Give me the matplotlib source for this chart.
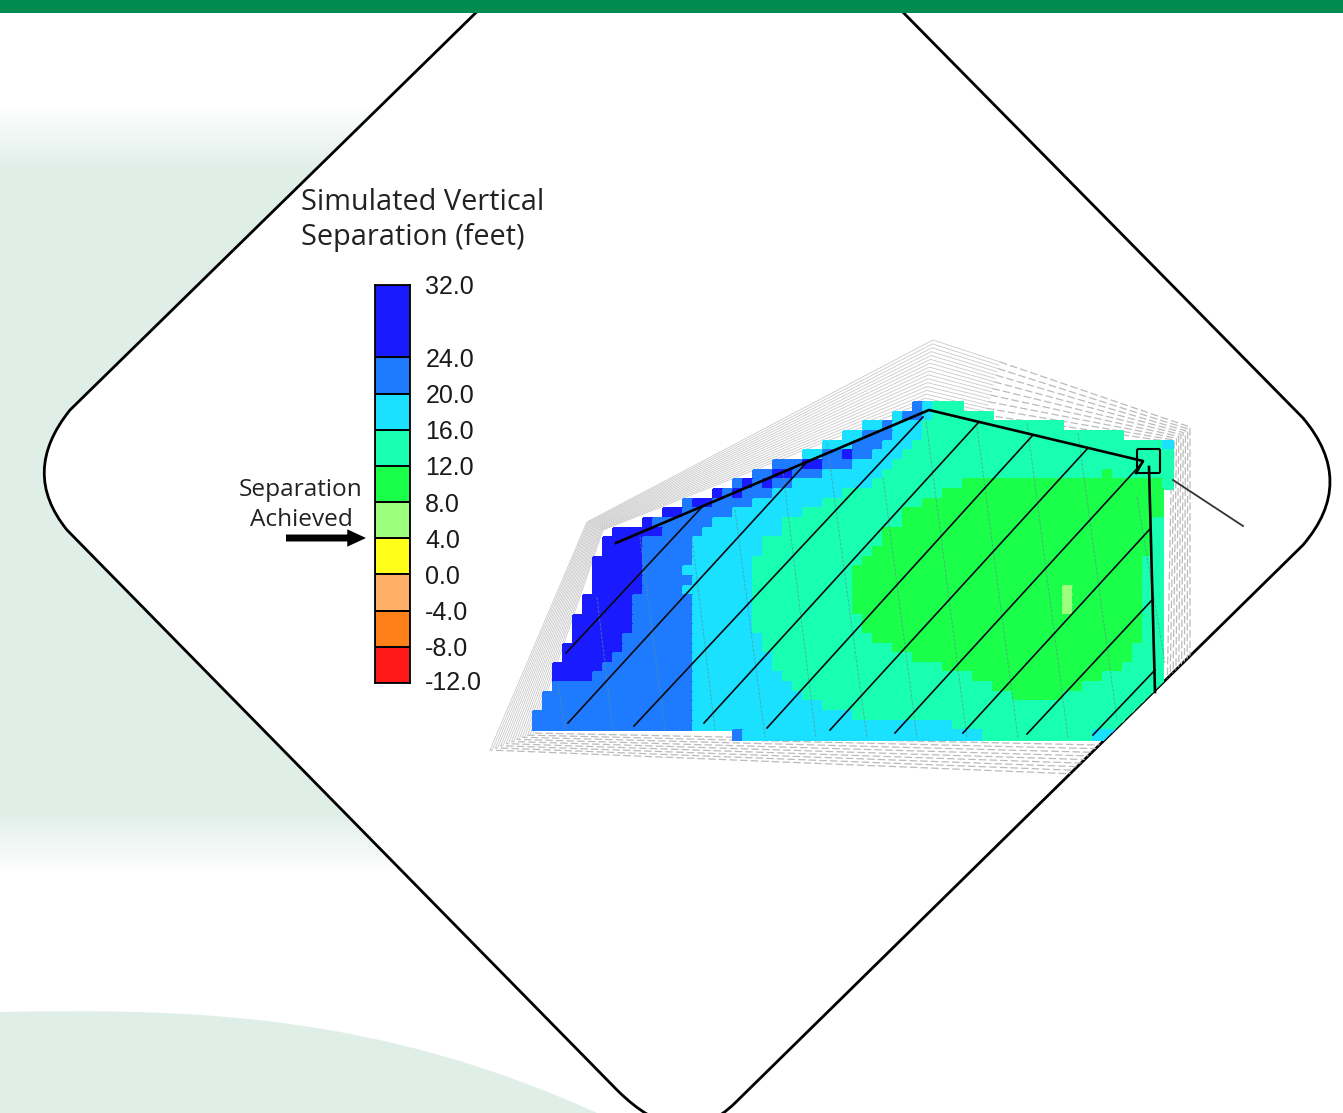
import numpy as np
import matplotlib
matplotlib.use("Agg")
import matplotlib.pyplot as plt
from matplotlib.colors import ListedColormap, BoundaryNorm
from matplotlib.path import Path
from matplotlib.patches import PathPatch, Rectangle, FancyBboxPatch
from matplotlib.transforms import ScaledTranslation

# legend classes, low to high (feet)
levels = [-12, -8, -4, 0, 4, 8, 12, 16, 20, 24, 32]
level_labels = ["-12.0", "-8.0", "-4.0", "0.0", "4.0", "8.0", "12.0", "16.0", "20.0", "24.0", "32.0"]
level_colors = ["#ff1919", "#ff7f19", "#ffb066", "#ffff19", "#9cff7d", "#19ff4a",
                "#19ffb2", "#19e1ff", "#1e7bff", "#1a1aff"]

# simulated separation per model cell, by class letter
class_values = {"B": 28, "b": 22, "c": 18, "t": 14, "g": 10, "l": 6}

# one entry per model row: first column, then runs of class + count
grid_rows = [
    "38 b1 c1 t3",
    "36 c1 b2 c1 t6",
    "33 c2 b1 c3 t14",
    "31 c2 b3 c3 t20",
    "29 c3 b3 c3 t25 c1",
    "27 c2 b2 B1 b2 c3 t27",
    "24 b3 B2 b3 c4 t28",
    "22 b2 B2 b3 c6 t22 g1 t6",
    "20 b1 B1 b1 B1 b2 c8 t9 g20 t1",
    "18 B1 b1 B1 b3 c7 t10 g22",
    "15 b1 B2 b4 c7 t10 g24",
    "13 B2 b5 c7 t10 g26",
    "11 B1 b6 c7 t12 g25 t1",
    "8 B5 b4 c8 t10 g27 t1",
    "7 B4 b5 c7 t12 g27 t1",
    "7 B4 b5 c7 t11 g28 t1",
    "6 B5 b5 c6 t11 g28 t2",
    "6 B5 b4 c7 t10 g29 t2",
    "6 B5 b5 c6 t10 g29 t2",
    "6 B5 b4 c7 t10 g21 l1 g7 t2",
    "5 B5 b6 c6 t10 g21 l1 g7 t2",
    "5 B5 b6 c6 t10 g21 l1 g7 t2",
    "4 B6 b6 c6 t11 g28 t2",
    "4 B6 b6 c6 t11 g28 t2",
    "4 B5 b7 c7 t11 g27 t2",
    "3 B6 b7 c7 t13 g24 t3",
    "3 B5 b8 c8 t14 g22 t3",
    "2 B5 b9 c8 t17 g18 t4",
    "2 B4 b10 c9 t19 g13 t6",
    "2 b14 c10 t20 g9 t8",
    "1 b15 c11 t21 g5 t10",
    "1 b15 c13 t34",
    "0 b16 c16 t31",
    "0 b16 c26 t21",
    "20 b1 c24 t11 c3 t4",
]

# injection lines and the thin dashed wells over them (picture pixels)
main_line_x = [616, 929, 1143, 1136]
main_line_y = [543, 410, 461, 473]
side_line_x = [1149, 1155]
side_line_y = [467, 692]
lateral_x0 = [566, 568, 634, 704, 767, 830, 895, 963, 1027, 1093]
lateral_y0 = [653, 723, 726, 723, 728, 730, 733, 733, 734, 735]
lateral_x1 = [702, 807, 923, 978, 1033, 1088, 1143, 1150, 1153, 1155]
lateral_y1 = [507, 462, 417, 423, 435, 448, 462, 529, 599, 670]
well_x0 = [558, 597, 640, 692, 735, 783, 827, 883, 925, 977, 1027, 1078, 1137]
well_y0 = [683, 597, 537, 537, 510, 473, 443, 477, 413, 427, 423, 433, 497]
well_x1 = [565, 613, 665, 715, 765, 816, 867, 917, 967, 1018, 1068, 1117, 1165]
well_y1 = [730, 730, 730, 730, 737, 738, 738, 738, 738, 738, 738, 720, 663]

# rings of the outer model grid
outer_ring_x = [490, 587, 933, 1000, 1190, 1190, 1100, 490]
outer_ring_y = [750, 522, 340, 362, 427, 800, 775, 750]
inner_ring_x = [533, 603, 925, 985, 1172, 1165, 1100, 533]
inner_ring_y = [733, 530, 402, 415, 442, 800, 745, 733]

pale = "#e0eee8"

fig = plt.figure(figsize=(13.43, 11.13), dpi=100)
ax = fig.add_axes([0, 0, 1, 1])
ax.axis("off")
plt.rcParams["font.family"] = ["Liberation Sans", "DejaVu Sans"]

# pale background bands behind the diamond
band_alpha = np.interp(np.arange(105, 875), [105, 170, 812, 872], [0, 1, 1, 0])
band = np.ones((len(band_alpha), 1, 4))
band[:, :, :3] = matplotlib.colors.to_rgb(pale)
band[:, 0, 3] = band_alpha
ax.imshow(band, extent=[0, 420, 875, 105], aspect="auto", zorder=1)
ax.set_xlim(0, 1343)
ax.set_ylim(1113, 0)
bottom_path = Path([(0, 1012), (200, 1008), (380, 1015), (597, 1113), (0, 1113), (0, 1012)],
                   [Path.MOVETO, Path.CURVE4, Path.CURVE4, Path.CURVE4, Path.LINETO, Path.LINETO])
ax.add_patch(PathPatch(bottom_path, facecolor=pale, edgecolor="none", zorder=1))

# rounded diamond
verts = [(495, -6), (70, 410), (20, 472), (67, 530), (617, 1090), (682, 1155), (735, 1103),
         (1303, 545), (1357, 482), (1303, 418), (885, -6)]
codes = [Path.MOVETO, Path.LINETO, Path.CURVE3, Path.CURVE3, Path.LINETO, Path.CURVE3, Path.CURVE3,
         Path.LINETO, Path.CURVE3, Path.CURVE3, Path.LINETO]
diamond = PathPatch(Path(verts, codes), facecolor="white", edgecolor="black", lw=2, zorder=2)
ax.add_patch(diamond)

# outer model grid, drawn as nested rings
for i, t in enumerate(np.linspace(0, 1, 17)):
    rx = (1 - t) * np.array(outer_ring_x) + t * np.array(inner_ring_x)
    ry = (1 - t) * np.array(outer_ring_y) + t * np.array(inner_ring_y)
    l1, = ax.plot(rx[:4], ry[:4], color="#c9c9c9", lw=0.6, zorder=3)
    l1.set_clip_path(diamond)
    if i % 2 == 0:
        l2, = ax.plot(rx[3:], ry[3:], color="#bbbbbb", lw=0.9, ls=(0, (6, 2.5)), zorder=3)
        l2.set_clip_path(diamond)

# simulated field
cmap = ListedColormap(level_colors)
norm = BoundaryNorm(levels, cmap.N)
n_cols = 64
field = np.full((len(grid_rows), n_cols), np.nan)
for r, row in enumerate(grid_rows):
    parts = row.split()
    col = int(parts[0])
    for run in parts[1:]:
        n = int(run[1:])
        field[r, col:col + n] = class_values[run[0]]
        col += n
mesh = ax.pcolormesh(533 + 10 * np.arange(n_cols + 1), 402 + 9.66 * np.arange(len(grid_rows) + 1),
                     np.ma.masked_invalid(field), cmap=cmap, norm=norm, zorder=4,
                     edgecolors="face", linewidth=0.1)
mesh.set_clip_path(diamond)

for x0, y0, x1, y1 in zip(well_x0, well_y0, well_x1, well_y1):
    ax.plot([x0, x1], [y0, y1], color="#5f8f8f", lw=0.7, ls=(0, (3, 1.5)), alpha=0.65, zorder=5)
for x0, y0, x1, y1 in zip(lateral_x0, lateral_y0, lateral_x1, lateral_y1):
    l, = ax.plot([x0, x1], [y0, y1], color="#0a0a14", lw=1.2, zorder=6)
    l.set_clip_path(diamond)
ax.plot(main_line_x, main_line_y, color="black", lw=1.9, zorder=7)
ax.plot(side_line_x, side_line_y, color="black", lw=1.9, zorder=7)

# callout box and leader
ax.add_patch(FancyBboxPatch((1137, 449), 23, 24, boxstyle="round,pad=0,rounding_size=1.5",
                            facecolor="none", edgecolor="black", lw=1.5, zorder=8))
ax.plot([1173, 1243], [480, 526], color="#333333", lw=1.3, zorder=8)

# top stripe
ax.add_patch(Rectangle((0, 0), 1343, 12.5, facecolor="#008c50", edgecolor="none", zorder=10))

# legend
text_font = ["Open Sans", "DejaVu Sans"]
ax.text(301, 202, "Simulated Vertical", fontsize=20.8, family=text_font,
        color="#222222", ha="left", va="center", zorder=9)
ax.text(301, 237, "Separation (feet)", fontsize=20.8, family=text_font,
        color="#222222", ha="left", va="center", zorder=9)
ax.text(301, 490, "Separation", fontsize=17.6, family=text_font,
        color="#222222", ha="center", va="center", zorder=9)
ax.text(301, 520, "Achieved", fontsize=17.6, family=text_font,
        color="#222222", ha="center", va="center", zorder=9)
ax.annotate("", xy=(366, 538), xytext=(286, 538), zorder=9,
            arrowprops=dict(arrowstyle="simple,head_length=13.5,head_width=12.5,tail_width=5",
                            color="black", lw=0, shrinkA=0, shrinkB=0, mutation_scale=1))

cax = fig.add_axes([375 / 1343, 1 - 683 / 1113, 35 / 1343, 398 / 1113])
cax.pcolormesh([0, 1], levels, np.array(levels[:-1]).reshape(-1, 1) + 0.5, cmap=cmap, norm=norm,
               edgecolors="black", linewidth=1.1)
cax.set_xlim(0, 1)
cax.set_ylim(-12, 32)
cax.set_xticks([])
cax.yaxis.tick_right()
cax.set_yticks(levels)
cax.set_yticklabels(level_labels, fontsize=18, color="#1a1a1a")
cax.tick_params(axis="y", length=0, pad=11)
for s in cax.spines.values():
    s.set_linewidth(1.3)
# lowest label sits a little above its level in the original
low_label = cax.get_yticklabels()[0]
low_label.set_transform(low_label.get_transform() + ScaledTranslation(0, 3 / 100, fig.dpi_scale_trans))

fig.savefig("out.png", dpi=100)
